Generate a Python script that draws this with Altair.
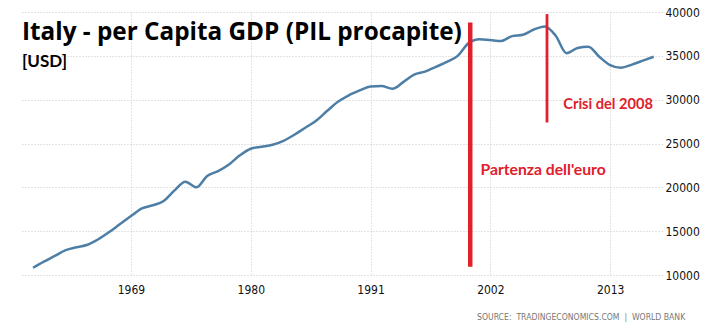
import altair as alt
import pandas as pd

# ---- data ----
years = list(range(1960, 2018))
gdp = [10830, 11530, 12170, 12830, 13160, 13450, 14080, 14900, 15820, 16720,
       17600, 17950, 18450, 19650, 20650, 20000, 21300, 21850, 22600, 23650,
       24400, 24620, 24850, 25300, 26000, 26800, 27600, 28700, 29750, 30500,
       31050, 31500, 31550, 31250, 32000, 32850, 33200, 33750, 34300, 35000,
       36450, 36900, 36800, 36700, 37250, 37400, 38000, 38350, 37300, 35300,
       35900, 36050, 34900, 33950, 33650, 34000, 34450, 34900]

x_tick_years = [1969, 1980, 1991, 2002, 2013]
y_tick_values = [10000, 15000, 20000, 25000, 30000, 35000, 40000]

marker_years = [2000.15, 2007.2]
marker_top = [38800, 39760]
marker_bottom = [10950, 27400]
marker_widths = [4.5, 2.8]

note_texts = ["Partenza dell'euro", "Crisi del 2008"]
note_years = [2001.1, 2008.7]
note_values = [21970, 29390]

title_text = "Italy - per Capita GDP (PIL procapite)"
unit_text = "[USD]"
source_text = "SOURCE:\u00a0 TRADINGECONOMICS.COM\u00a0 |\u00a0 WORLD BANK"

# ---- tables ----
df = pd.DataFrame({"year": years, "gdp": gdp})
markers = pd.DataFrame({"year": marker_years, "top": marker_top,
                        "bottom": marker_bottom, "w": marker_widths})
notes = pd.DataFrame({"year": note_years, "value": note_values, "label": note_texts})

LINE = "#4d7ea6"
RED = "#e0202b"
AXFONT = "Liberation Sans Narrow, DejaVu Sans Condensed, DejaVu Sans, sans-serif"
TFONT = "Lato, Open Sans, sans-serif"

xscale = alt.Scale(domain=[1958.9, 2017.76], nice=False, zero=False)
yscale = alt.Scale(domain=[10000, 40000], nice=False, zero=False)

x_axis = alt.Axis(values=x_tick_years, format="d", grid=True,
                  gridColor="#c8c8c8", gridDash=[1, 2], gridWidth=1,
                  domain=False, ticks=False, labelPadding=9,
                  labelFont=AXFONT, labelFontSize=12, labelColor="#111",
                  labelFlush=False)
y_axis = alt.Axis(orient="right", values=y_tick_values, format="d",
                  grid=True, gridColor="#c8c8c8", gridDash=[1, 2],
                  gridWidth=1, domain=False, ticks=False,
                  labelPadding=3, labelAlign="left",
                  labelFont=AXFONT, labelFontSize=12, labelColor="#111")

line = alt.Chart(df).mark_line(
    color=LINE, strokeWidth=2.5, interpolate="monotone"
).encode(
    x=alt.X("year:Q", scale=xscale, title=None, axis=x_axis),
    y=alt.Y("gdp:Q", scale=yscale, title=None, axis=y_axis),
)

rules = alt.Chart(markers).mark_rule(color=RED, strokeCap="butt").encode(
    x=alt.X("year:Q", scale=xscale, title=None, axis=x_axis),
    y=alt.Y("top:Q", scale=yscale, title=None, axis=y_axis),
    y2="bottom:Q",
    strokeWidth=alt.StrokeWidth("w:Q", scale=None, legend=None),
)


def note_layer(label, size):
    return alt.Chart(notes).transform_filter(
        alt.datum.label == label
    ).mark_text(
        color=RED, font=TFONT, fontWeight="bold", fontSize=size,
        align="left", baseline="middle"
    ).encode(
        x=alt.X("year:Q", scale=xscale, title=None, axis=x_axis),
        y=alt.Y("value:Q", scale=yscale, title=None, axis=y_axis),
        text="label:N",
    )


note_euro = note_layer(note_texts[0], 15.7)
note_crisis = note_layer(note_texts[1], 14.6)

title_mark = alt.Chart(pd.DataFrame({"t": [title_text]})).mark_text(
    font="Open Sans, Lato, sans-serif", fontWeight="bold", fontSize=24.3,
    color="#000", align="left", baseline="alphabetic"
).encode(x=alt.value(1), y=alt.value(28), text="t:N")

unit_mark = alt.Chart(pd.DataFrame({"t": [unit_text]})).mark_text(
    font=TFONT, fontWeight="bold", fontSize=17, color="#000",
    align="left", baseline="alphabetic"
).encode(x=alt.value(1), y=alt.value(55), text="t:N")

source_mark = alt.Chart(pd.DataFrame({"t": [source_text]})).mark_text(
    font=AXFONT, fontSize=8.6, color="#777",
    align="left", baseline="middle"
).encode(x=alt.value(456), y=alt.value(304.5), text="t:N")

chart = alt.layer(
    line, rules, note_euro, note_crisis, title_mark, unit_mark, source_mark
).properties(
    width=641, height=263,
    autosize=alt.AutoSizeParams(type="none"),
    padding={"left": 21, "top": 12, "right": 65, "bottom": 52},
    background="white",
).configure_view(strokeWidth=0)

chart.save("out.html", embed_options={"renderer": "svg", "actions": False})
